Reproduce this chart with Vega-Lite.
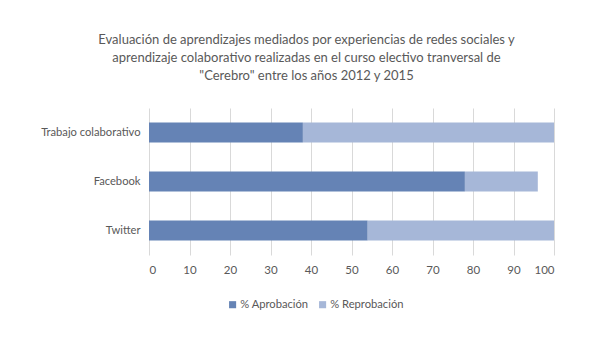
{
  "$schema": "https://vega.github.io/schema/vega-lite/v6.json",
  "width": 405,
  "height": 147,
  "autosize": {"type": "none"},
  "padding": {"left": 149, "top": 108, "right": 58, "bottom": 100},
  "background": "white",
  "title": {
    "text": ["Evaluación de aprendizajes mediados por experiencias de redes sociales y", "aprendizaje colaborativo realizadas en el curso electivo tranversal de", "\"Cerebro\" entre los años 2012 y 2015"],
    "anchor": "middle",
    "frame": "group",
    "dx": -45,
    "offset": 25,
    "font": "Lato",
    "fontSize": 13,
    "fontWeight": "normal",
    "color": "#595959",
    "lineHeight": 18
  },
  "data": {
    "values": [
      {"categoria": "Trabajo colaborativo", "serie": "% Aprobación", "orden": 1, "valor": 38},
      {"categoria": "Trabajo colaborativo", "serie": "% Reprobación", "orden": 2, "valor": 62},
      {"categoria": "Facebook", "serie": "% Aprobación", "orden": 1, "valor": 78},
      {"categoria": "Facebook", "serie": "% Reprobación", "orden": 2, "valor": 18},
      {"categoria": "Twitter", "serie": "% Aprobación", "orden": 1, "valor": 54},
      {"categoria": "Twitter", "serie": "% Reprobación", "orden": 2, "valor": 46}
    ]
  },
  "mark": {"type": "bar"},
  "encoding": {
    "y": {
      "field": "categoria",
      "type": "nominal",
      "sort": ["Trabajo colaborativo", "Facebook", "Twitter"],
      "scale": {"paddingInner": 0.59, "paddingOuter": 0.295},
      "axis": {
        "title": null,
        "domain": false,
        "ticks": false,
        "grid": false,
        "labelPadding": 9,
        "labelFont": "Lato",
        "labelFontSize": 11.2,
        "labelColor": "#595959"
      }
    },
    "x": {
      "field": "valor",
      "type": "quantitative",
      "stack": "zero",
      "scale": {"domain": [0, 100], "nice": false},
      "axis": {
        "title": null,
        "values": [0, 10, 20, 30, 40, 50, 60, 70, 80, 90, 100],
        "domain": false,
        "ticks": false,
        "grid": true,
        "gridColor": "#d9d9d9",
        "gridWidth": 1,
        "labelPadding": 9,
        "labelFont": "Lato",
        "labelFontSize": 11.5,
        "labelColor": "#595959"
      }
    },
    "color": {
      "field": "serie",
      "type": "nominal",
      "scale": {"domain": ["% Aprobación", "% Reprobación"], "range": ["#6583B5", "#A6B7D8"]},
      "legend": {
        "title": null,
        "orient": "none",
        "direction": "horizontal",
        "legendX": 78,
        "legendY": 191,
        "symbolType": "square",
        "symbolSize": 50,
        "symbolStrokeWidth": 0,
        "labelFont": "Lato",
        "labelFontSize": 11.2,
        "labelColor": "#595959",
        "labelOffset": 2,
        "columnPadding": 8
      }
    },
    "order": {"field": "orden", "type": "quantitative"}
  },
  "config": {"view": {"stroke": null}}
}
